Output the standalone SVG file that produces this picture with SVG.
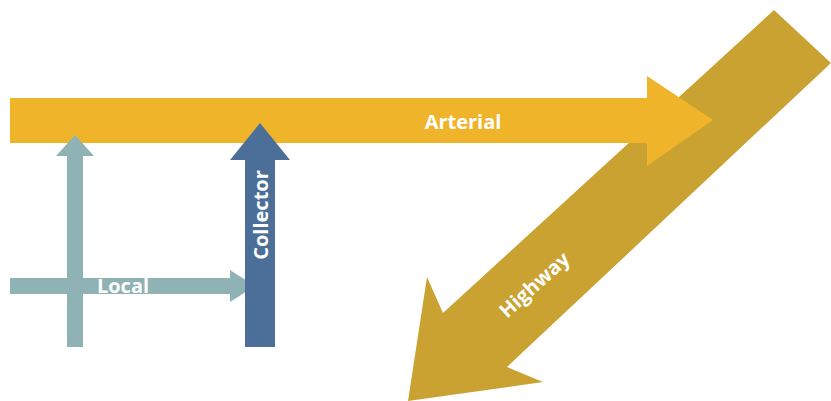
<svg xmlns="http://www.w3.org/2000/svg" width="831" height="401" viewBox="0 0 831 401">
<style>
.lbl{font-family:"Open Sans","Liberation Sans",sans-serif;font-weight:bold;fill:#ffffff;text-anchor:middle}
.hw{fill:#C9A232}
.art{fill:#EFB429}
.loc{fill:#8FB2B4}
.col{fill:#4B6F98}
</style>
<rect width="831" height="401" fill="#ffffff"/>
<g id="connectors">
<g id="highway">
<polygon class="hw" points="774,10 831,63 507,367 543,382 408,401 427,277 443,313"/>
<text class="lbl" font-size="20" transform="translate(539,290) rotate(-42)">Highway</text>
</g>
<g id="arterial">
<polygon class="art" points="10,98 647,98 647,76 713,120 647,166 647,143 10,143"/>
<text class="lbl" font-size="20" x="463" y="129">Arterial</text>
</g>
<g id="local">
<polygon class="loc" points="67,347 67,156 56,156 75,135 94,156 83,156 83,347"/>
<polygon class="loc" points="10,278 230,278 230,270 255,286 230,302 230,294 10,294"/>
<text class="lbl" font-size="20" x="123" y="293">Local</text>
</g>
<g id="collector">
<polygon class="col" points="245,347 245,160 230,160 260,123 290,160 275,160 275,347"/>
<text class="lbl" font-size="20" transform="translate(268,215) rotate(-90)">Collector</text>
</g>
</g>
</svg>
